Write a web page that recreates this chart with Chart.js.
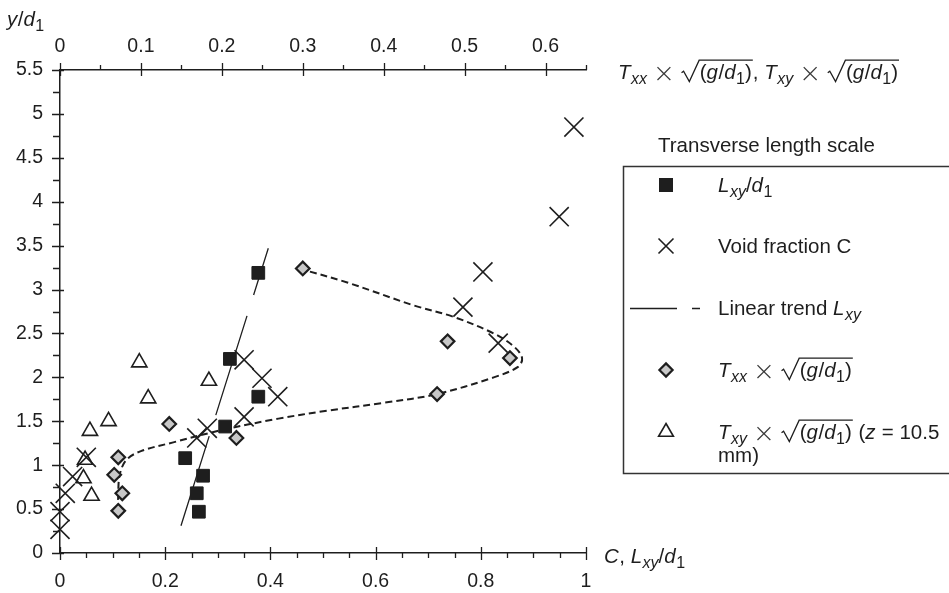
<!DOCTYPE html>
<html>
<head>
<meta charset="utf-8">
<style>
  html, body { margin: 0; padding: 0; background: #fff; }
  #wrap { width: 949px; height: 593px; }
</style>
<script src="https://cdn.jsdelivr.net/npm/chart.js@4.4.1/dist/chart.umd.min.js"></script>
</head>
<body>
<div id="wrap"><canvas id="c" width="949" height="593"></canvas></div>
<script>
// ---- measured values -------------------------------------------------
// Void fraction C against y/d1 (bottom axis)
const voidY = [0.27, 0.47, 0.68, 0.87, 1.09, 1.31, 1.42, 1.55, 1.78, 1.99, 2.20, 2.39, 2.80, 3.20, 3.83, 4.85];
const voidC = [0.00, 0.00, 0.01, 0.024, 0.05, 0.26, 0.28, 0.35, 0.414, 0.384, 0.35, 0.833, 0.766, 0.804, 0.949, 0.977];

// Transverse length scale Lxy/d1 (bottom axis)
const lxyY = [0.47, 0.68, 0.88, 1.08, 1.44, 1.78, 2.21, 3.19];
const lxyL = [0.264, 0.26, 0.272, 0.238, 0.314, 0.377, 0.323, 0.377];

// Linear trend of Lxy/d1 (end points)
const trendL = [0.23, 0.396];
const trendY = [0.31, 3.47];

// Integral time scales (top axis)
const txxY = [0.48, 0.68, 0.89, 1.09, 1.31, 1.47, 1.81, 2.22, 2.41, 3.24];
const txxT = [0.072, 0.077, 0.067, 0.072, 0.218, 0.135, 0.466, 0.556, 0.479, 0.30];

const txyY = [0.65, 0.85, 1.06, 1.39, 1.50, 1.76, 1.96, 2.17];
const txyT = [0.039, 0.029, 0.031, 0.037, 0.060, 0.109, 0.184, 0.098];

// Hand-drawn trend through the Txx data
const curveT = [0.072, 0.072, 0.074, 0.082, 0.10, 0.14, 0.20, 0.27, 0.33, 0.40, 0.466, 0.536, 0.566, 0.571, 0.561, 0.536, 0.486, 0.437, 0.355, 0.303];
const curveY = [0.48, 0.70, 0.90, 1.06, 1.16, 1.26, 1.40, 1.53, 1.62, 1.71, 1.81, 2.00, 2.12, 2.22, 2.35, 2.50, 2.69, 2.82, 3.08, 3.22];

// Axis tick steps
const yTicksStep = 0.5;
const cTicksStep = 0.2;
const tTicksStep = 0.1;

// ---- helpers ----------------------------------------------------------
const INK = '#1e1e1e';
const FAMILY = '"Liberation Sans", Arial, Helvetica, sans-serif';
const pairs = (xs, ys) => xs.map((v, i) => ({ x: v, y: ys[i] }));
const plainNumber = v => String(+Number(v).toFixed(2));

Chart.defaults.font.family = FAMILY;
Chart.defaults.color = INK;

// Draw a run list: {t, i (italic), sub, scale, dy, light} or {rad: [...]} for a square root
function drawRich(ctx, x, y, runs, size) {
  let cx = x;
  for (const r of runs) {
    if (r.rad) {
      const top = y - size * 0.92;
      ctx.save();
      ctx.strokeStyle = INK;
      ctx.lineWidth = 1.3;
      ctx.lineJoin = 'miter';
      ctx.beginPath();
      ctx.moveTo(cx + size * 0.04, y - size * 0.30);
      ctx.lineTo(cx + size * 0.14, y - size * 0.38);
      ctx.lineTo(cx + size * 0.42, y + size * 0.12);
      ctx.lineTo(cx + size * 0.90, top);
      const start = cx + size * 0.93;
      const end = drawRich(ctx, start, y, r.rad, size);
      ctx.lineTo(end + 1, top);
      ctx.stroke();
      ctx.restore();
      cx = end + 1;
    } else {
      const fs = size * (r.sub ? 0.78 : (r.scale || 1));
      ctx.font = r.light
        ? '200 ' + fs + 'px "DejaVu Sans", ' + FAMILY
        : (r.i ? 'italic ' : '') + fs + 'px ' + FAMILY;
      ctx.fillStyle = r.light ? '#3a3a3a' : INK;
      ctx.textAlign = 'left';
      ctx.textBaseline = 'alphabetic';
      const dy = r.sub ? size * 0.25 : (r.dy || 0) * size;
      ctx.fillText(r.t, cx, y + dy);
      cx += ctx.measureText(r.t).width + (r.i && !r.sub ? 0.5 : 0);
    }
  }
  return cx;
}

const sqrtGd = [{ rad: [{ t: '(' }, { t: 'g', i: true }, { t: '/' }, { t: 'd', i: true }, { t: '1', sub: true }, { t: ')' }] }];
const times = [{ t: ' ' }, { t: '×', scale: 1.3, dy: 0.14, light: true }, { t: ' ' }];

function marker(ctx, kind, x, y) {
  ctx.save();
  ctx.strokeStyle = INK;
  ctx.beginPath();
  if (kind === 'square') {
    ctx.fillStyle = INK;
    ctx.rect(x - 7, y - 7, 14, 14);
    ctx.fill();
  } else if (kind === 'cross') {
    ctx.lineWidth = 1.6;
    ctx.moveTo(x - 7.5, y - 7.5); ctx.lineTo(x + 7.5, y + 7.5);
    ctx.moveTo(x - 7.5, y + 7.5); ctx.lineTo(x + 7.5, y - 7.5);
    ctx.stroke();
  } else if (kind === 'diamond') {
    ctx.lineWidth = 2.2;
    ctx.fillStyle = '#c8c8c8';
    ctx.moveTo(x, y - 6.6); ctx.lineTo(x + 6.6, y); ctx.lineTo(x, y + 6.6); ctx.lineTo(x - 6.6, y);
    ctx.closePath(); ctx.fill(); ctx.stroke();
  } else if (kind === 'triangle') {
    ctx.lineWidth = 1.6;
    ctx.fillStyle = '#fff';
    ctx.moveTo(x, y - 8.5); ctx.lineTo(x + 7.4, y + 4.3); ctx.lineTo(x - 7.4, y + 4.3);
    ctx.closePath(); ctx.fill(); ctx.stroke();
  }
  ctx.restore();
}

// Tick marks (major ticks cross the axis, minor ticks point outward),
// axis titles and the boxed key
const decorations = {
  id: 'decorations',
  afterDraw(chart) {
    const ctx = chart.ctx;
    const { x, x2, y } = chart.scales;
    const ca = chart.chartArea;
    ctx.save();
    ctx.strokeStyle = INK;
    ctx.lineWidth = 1.3;
    ctx.beginPath();
    for (let k = 0; k <= 22; k++) {
      const py = Math.round(y.getPixelForValue(k * 0.25)) + 0.5;
      const major = k % 2 === 0;
      ctx.moveTo(ca.left - (major ? 8 : 7), py);
      ctx.lineTo(ca.left + (major ? 4 : 0), py);
    }
    for (let k = 0; k <= 20; k++) {
      const px = Math.round(x.getPixelForValue(k * 0.05)) + 0.5;
      const major = k % 4 === 0;
      ctx.moveTo(px, ca.bottom - (major ? 6 : 0));
      ctx.lineTo(px, ca.bottom + (major ? 7 : 5));
    }
    for (let k = 0; k <= 13; k++) {
      const px = Math.round(x2.getPixelForValue(k * 0.05)) + 0.5;
      const major = k % 2 === 0;
      ctx.moveTo(px, ca.top - (major ? 7 : 5));
      ctx.lineTo(px, ca.top + (major ? 6 : 0));
    }
    ctx.stroke();
    ctx.restore();

    const fs = 20.5;
    // axis titles
    drawRich(ctx, 7, 26, [{ t: 'y', i: true }, { t: '/' }, { t: 'd', i: true }, { t: '1', sub: true }], fs);
    drawRich(ctx, ca.right + 32, ca.top + 9,
      [{ t: 'T', i: true }, { t: 'xx', i: true, sub: true }, ...times, ...sqrtGd, { t: ', ' },
       { t: 'T', i: true }, { t: 'xy', i: true, sub: true }, ...times, ...sqrtGd], fs);
    drawRich(ctx, ca.right + 18, ca.bottom + 10,
      [{ t: 'C', i: true }, { t: ', ' }, { t: 'L', i: true }, { t: 'xy', i: true, sub: true }, { t: '/' }, { t: 'd', i: true }, { t: '1', sub: true }], fs);

    // key
    drawRich(ctx, 658, 152, [{ t: 'Transverse length scale' }], fs);
    ctx.save();
    ctx.strokeStyle = '#333';
    ctx.lineWidth = 1.5;
    ctx.strokeRect(623.5, 166.5, 400, 307);
    ctx.restore();

    const mx = 666, tx = 718;
    const rows = [185, 246, 308, 370, 432];
    marker(ctx, 'square', mx, rows[0]);
    drawRich(ctx, tx, rows[0] + 7, [{ t: 'L', i: true }, { t: 'xy', i: true, sub: true }, { t: '/' }, { t: 'd', i: true }, { t: '1', sub: true }], fs);
    marker(ctx, 'cross', mx, rows[1]);
    drawRich(ctx, tx, rows[1] + 7, [{ t: 'Void fraction C' }], fs);
    ctx.save();
    ctx.strokeStyle = INK; ctx.lineWidth = 1.3;
    ctx.beginPath();
    ctx.moveTo(630, rows[2] + 0.5); ctx.lineTo(677, rows[2] + 0.5);
    ctx.moveTo(692, rows[2] + 0.5); ctx.lineTo(700, rows[2] + 0.5);
    ctx.stroke();
    ctx.restore();
    drawRich(ctx, tx, rows[2] + 7, [{ t: 'Linear trend ' }, { t: 'L', i: true }, { t: 'xy', i: true, sub: true }], fs);
    marker(ctx, 'diamond', mx, rows[3]);
    drawRich(ctx, tx, rows[3] + 7, [{ t: 'T', i: true }, { t: 'xx', i: true, sub: true }, ...times, ...sqrtGd], fs);
    marker(ctx, 'triangle', mx, rows[4]);
    drawRich(ctx, tx, rows[4] + 7, [{ t: 'T', i: true }, { t: 'xy', i: true, sub: true }, ...times, ...sqrtGd,
      { t: ' (' }, { t: 'z', i: true }, { t: ' = 10.5' }], fs);
    drawRich(ctx, tx, rows[4] + 30, [{ t: 'mm)' }], fs);
  }
};

const tickFont = { size: 19.5, family: FAMILY };

new Chart(document.getElementById('c'), {
  type: 'scatter',
  data: {
    datasets: [
      {
        label: 'Lxy/d1', data: pairs(lxyL, lxyY), xAxisID: 'x', yAxisID: 'y',
        pointStyle: 'rect', pointRadius: 9, backgroundColor: INK, borderColor: INK, borderWidth: 1, clip: false
      },
      {
        label: 'Void fraction C', data: pairs(voidC, voidY), xAxisID: 'x', yAxisID: 'y',
        pointStyle: 'crossRot', pointRadius: 13.5, borderColor: INK, borderWidth: 1.6, clip: false
      },
      {
        label: 'Txx', data: pairs(txxT, txxY), xAxisID: 'x2', yAxisID: 'y',
        pointStyle: 'rectRot', pointRadius: 6.8, backgroundColor: '#c8c8c8', borderColor: INK, borderWidth: 2.2, clip: false
      },
      {
        label: 'Txy', data: pairs(txyT, txyY), xAxisID: 'x2', yAxisID: 'y',
        pointStyle: 'triangle', pointRadius: 8.8, backgroundColor: '#fff', borderColor: INK, borderWidth: 1.6, clip: false
      },
      {
        label: 'Linear trend Lxy', data: pairs(trendL, trendY), xAxisID: 'x', yAxisID: 'y',
        showLine: true, pointRadius: 0, borderColor: INK, borderWidth: 1.3,
        borderDash: [104, 22], borderDashOffset: 10, clip: false
      },
      {
        label: 'Txx trend', data: pairs(curveT, curveY), xAxisID: 'x2', yAxisID: 'y',
        showLine: true, pointRadius: 0, borderColor: INK, borderWidth: 2,
        borderDash: [7, 4], tension: 0.35, clip: false
      }
    ]
  },
  options: {
    responsive: false,
    animation: false,
    events: [],
    layout: { padding: { left: 0, right: 363, top: 0, bottom: 0 } },
    plugins: { legend: { display: false }, tooltip: { enabled: false } },
    scales: {
      x: {
        type: 'linear', position: 'bottom', min: 0, max: 1,
        ticks: { stepSize: cTicksStep, padding: 17, color: INK, font: tickFont, maxRotation: 0, callback: plainNumber },
        grid: { drawOnChartArea: false, drawTicks: false },
        border: { color: INK, width: 1.5 },
        afterFit: s => { s.height = 40; }
      },
      x2: {
        type: 'linear', position: 'top', min: 0, max: 0.65,
        ticks: { stepSize: tTicksStep, includeBounds: false, padding: 12, color: INK, font: tickFont, maxRotation: 0, callback: plainNumber },
        grid: { drawOnChartArea: false, drawTicks: false },
        border: { color: INK, width: 1.5 },
        afterFit: s => { s.height = 70; }
      },
      y: {
        type: 'linear', position: 'left', min: 0, max: 5.5,
        ticks: { stepSize: yTicksStep, padding: 17, color: INK, font: tickFont, callback: plainNumber },
        grid: { drawOnChartArea: false, drawTicks: false },
        border: { color: INK, width: 1.5 },
        afterFit: s => { s.width = 60; }
      }
    }
  },
  plugins: [decorations]
});
</script>
</body>
</html>
